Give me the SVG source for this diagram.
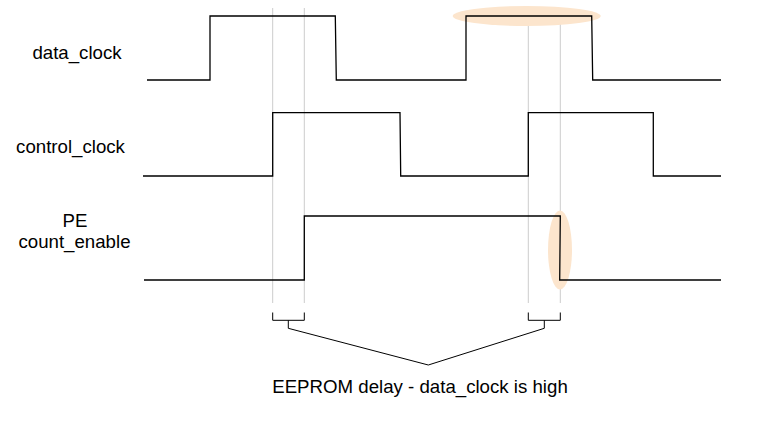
<svg xmlns="http://www.w3.org/2000/svg" width="766" height="429" viewBox="0 0 766 429">
<style>
.bg{fill:#ffffff}
.guide{stroke:#cccccc;stroke-width:1;fill:none}
.hl{fill:#fce5cd;stroke:none}
.wave{stroke:#000000;stroke-width:1.3;fill:none;stroke-linejoin:miter}
.brace{stroke:#000000;stroke-width:1;fill:none}
.lbl{font-family:"Liberation Sans",Arial,sans-serif;font-size:18.67px;fill:#000000;text-anchor:middle}
</style>
<rect class="bg" x="0" y="0" width="766" height="429"/>
<g id="guides">
<line class="guide" x1="272.7" y1="8" x2="272.7" y2="303"/>
<line class="guide" x1="304.3" y1="8" x2="304.3" y2="303"/>
<line class="guide" x1="528.3" y1="8" x2="528.3" y2="303"/>
<line class="guide" x1="560.3" y1="8" x2="560.3" y2="303"/>
</g>
<g id="highlights">
<ellipse class="hl" cx="526.7" cy="16" rx="74" ry="10"/>
<ellipse class="hl" cx="560" cy="250" rx="12" ry="39.5"/>
</g>
<g id="data_clock">
<text class="lbl" x="77" y="59">data_clock</text>
<polyline class="wave" points="147,80 210,80 210,16 335.3,16 336.3,80 466,80 466,16 591.7,16 592.7,80 721,80"/>
</g>
<g id="control_clock">
<text class="lbl" x="70.5" y="153">control_clock</text>
<polyline class="wave" points="143,176 272.7,176 272.7,112.7 400,112.7 400.7,176 528.3,176 528.3,112.7 653.3,112.7 653.3,176 721,176"/>
</g>
<g id="pe_count_enable">
<text class="lbl" x="75" y="227">PE</text>
<text class="lbl" x="74.5" y="248">count_enable</text>
<polyline class="wave" points="144,280 304.3,280 304.3,216 560.3,216 559.7,280 721,280"/>
</g>
<g id="connectors">
<path class="brace" d="M272.7,312.5 V320.3 H304.3 V312.5 M288.3,320.3 V328.3 L428.3,365 L544.3,328.3 V320.3 M528.3,312.5 V320.3 H560.3 V312.5"/>
</g>
<g id="caption">
<text class="lbl" x="420" y="393">EEPROM delay - data_clock is high</text>
</g>
</svg>
